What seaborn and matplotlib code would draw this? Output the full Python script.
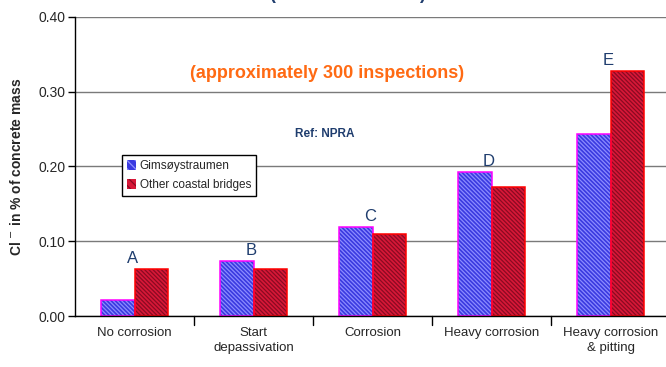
import matplotlib
matplotlib.use("Agg")
import matplotlib.pyplot as plt
from matplotlib.patches import Rectangle, Patch
import seaborn as sns
import pandas as pd

# Chloride content per corrosion state
categories = ["No corrosion", "Start\ndepassivation", "Corrosion", "Heavy corrosion", "Heavy corrosion\n& pitting"]
letters = ["A", "B", "C", "D", "E"]
gimsoy = [0.021, 0.073, 0.119, 0.193, 0.244]
coastal = [0.063, 0.063, 0.110, 0.173, 0.328]
series = ["Gimsøystraumen", "Other coastal bridges"]
y_ticks = [0.00, 0.10, 0.20, 0.30, 0.40]

df = pd.DataFrame({
    "state": categories * 2,
    "cl": gimsoy + coastal,
    "bridge": [series[0]] * len(categories) + [series[1]] * len(categories),
})

sns.set_theme(style="white")
plt.rcParams["font.family"] = ["Liberation Sans", "DejaVu Sans"]
plt.rcParams["hatch.linewidth"] = 0.9

fig = plt.figure(figsize=(6.66, 3.67), dpi=100)
ax = fig.add_axes([75 / 666, 1 - 316 / 367, 595 / 666, 299 / 367])

face = ["#3a3ae0", "#d81838"]
hatch_col = ["#8c8cff", "#8a0a22"]
edge = ["#ff00ff", "#ff0000"]
hatch = "\\\\\\\\\\\\\\\\"

sns.barplot(data=df, x="state", y="cl", hue="bridge", hue_order=series,
            order=categories, width=0.57, palette=face, ax=ax,
            errorbar=None, saturation=1, zorder=3)

# Hatch lines take the patch edge colour, so outlines are drawn separately
for i, cont in enumerate(ax.containers):
    for bar in cont:
        bar.set_hatch(hatch)
        bar.set_edgecolor(hatch_col[i])
        bar.set_linewidth(0)
        ax.add_patch(Rectangle(bar.get_xy(), bar.get_width(), bar.get_height(),
                               facecolor="none", edgecolor=edge[i], lw=1.1,
                               zorder=3.5))

# Letter markers above each group
for k, (g, c, lab) in enumerate(zip(gimsoy, coastal, letters)):
    ax.text(k - 0.02, max(g, c) + 0.004, lab, ha="center", va="bottom",
            fontsize=12, color="#1f3d6e", zorder=4)

ax.set_xlim(-0.5, 4.5)
ax.set_ylim(0, 0.40)
ax.set_yticks(y_ticks)
ax.set_yticklabels([f"{v:.2f}" for v in y_ticks], fontsize=10)
ax.yaxis.grid(True, color="#7a7a7a", linewidth=1.0, zorder=0)
ax.set_axisbelow(True)

ax.set_xticks(range(len(categories)))
ax.set_xticklabels(categories, fontsize=9.5, linespacing=1.35)
ax.tick_params(axis="x", length=0, pad=8)
for b in [0.5, 1.5, 2.5, 3.5]:
    ax.plot([b, b], [0, -0.012], color="black", lw=1, clip_on=False,
            transform=ax.transData)
ax.tick_params(axis="y", length=5, width=1, color="black", direction="out",
               left=True, pad=2)

for s in ["top", "right"]:
    ax.spines[s].set_visible(False)
ax.spines["left"].set_color("black")
ax.spines["bottom"].set_color("black")
ax.spines["left"].set_linewidth(1.0)
ax.spines["bottom"].set_linewidth(1.0)
ax.spines["bottom"].set_zorder(4)

ax.set_xlabel("")
ax.set_ylabel("Cl $^{-}$ in % of concrete mass", fontsize=10, fontweight="bold",
              labelpad=10)

ax.text(0.423, 0.81, "(approximately 300 inspections)", transform=ax.transAxes,
        ha="center", va="center", fontsize=13, fontweight="bold", color="#ff6a13")
ax.text(0.42, 0.61, "Ref: NPRA", transform=ax.transAxes, ha="center",
        va="center", fontsize=8.5, fontweight="bold", color="#1f3d6e")

# Title sits above the canvas; only its parenthesis tails show
fig.text(272 / 666, 1.002, "(", ha="center", va="baseline", fontsize=13,
         fontweight="bold", color="#1f3d6e")
fig.text(422 / 666, 1.002, ")", ha="center", va="baseline", fontsize=13,
         fontweight="bold", color="#1f3d6e")

handles = [Patch(facecolor=face[i], edgecolor=hatch_col[i], hatch="\\\\\\\\",
                 linewidth=0, label=series[i]) for i in range(2)]
leg = ax.legend(handles=handles, loc="upper left",
                bbox_to_anchor=(0.079, 0.538),
                borderaxespad=0, fontsize=8.5, frameon=True, fancybox=False,
                edgecolor="black", framealpha=1, handlelength=0.75,
                handleheight=0.9, handletextpad=0.3, labelspacing=0.55,
                borderpad=0.45)
leg.get_frame().set_linewidth(1.0)
leg.get_frame().set_edgecolor("black")
leg.set_zorder(5)

fig.savefig("out.png", dpi=100)
